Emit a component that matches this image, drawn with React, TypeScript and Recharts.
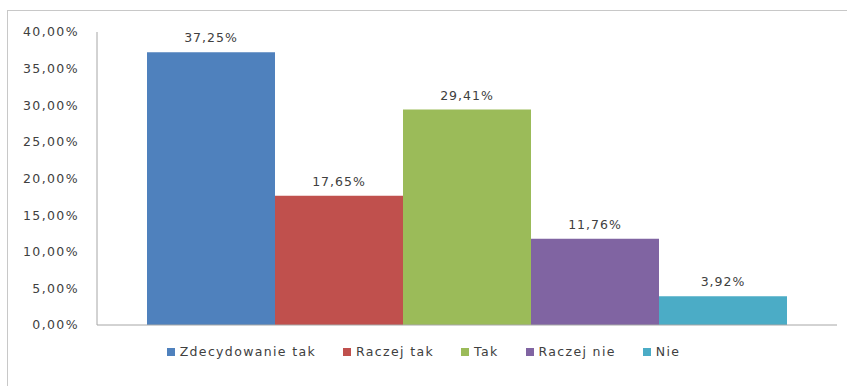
import React from 'react';
import { BarChart, Bar, XAxis, YAxis, Legend, LabelList } from 'recharts';

const categories = ['Zdecydowanie tak', 'Raczej tak', 'Tak', 'Raczej nie', 'Nie'];
const values = [37.25, 17.65, 29.41, 11.76, 3.92];
const colors = ['#4f81bd', '#c0504d', '#9bbb59', '#8064a2', '#4bacc6'];
const yTicks = [0, 5, 10, 15, 20, 25, 30, 35, 40];

const row: Record<string, string | number> = { name: '' };
categories.forEach((c, i) => {
  row['s' + i] = values[i];
});
const data = [row];

const fmt = (v: number) => v.toFixed(2).replace('.', ',') + '%';
const FONT = '"DejaVu Sans", sans-serif';

const renderLegend = () => (
  <div style={{ display: 'flex', justifyContent: 'center', fontFamily: FONT, fontSize: 12.5, color: '#404040', letterSpacing: 1.35 }}>
    {categories.map((c, i) => (
      <div key={c} style={{ display: 'flex', alignItems: 'center', marginRight: i < categories.length - 1 ? 27 : 0 }}>
        <span style={{ display: 'inline-block', width: 8, height: 8, background: colors[i], marginRight: 5 }} />
        <span>{c}</span>
      </div>
    ))}
  </div>
);

export default function App() {
  return (
    <div style={{ position: 'absolute', left: 0, top: 0, width: 847, height: 386, background: '#fff' }}>
      <div style={{ position: 'absolute', left: 7, top: 10, width: 845, height: 380, border: '1px solid #c8c8c8', boxSizing: 'border-box' }} />
      <div style={{ position: 'absolute', left: 0, top: 0 }}>
        <BarChart width={847} height={386} data={data} margin={{ top: 32, right: 10, bottom: 60, left: 0 }} barCategoryGap={50} barGap={0}>
          <XAxis dataKey="name" tick={false} tickLine={false} height={1} axisLine={{ stroke: '#a6a6a6' }} />
          <YAxis
            width={97}
            domain={[0, 40]}
            ticks={yTicks}
            tickFormatter={fmt}
            tickLine={false}
            axisLine={{ stroke: '#a6a6a6' }}
            tickMargin={12}
            tick={{ fill: '#404040', fontSize: 12.5, fontFamily: FONT, letterSpacing: 1.4 }}
            interval={0}
          />
          <Legend
            verticalAlign="middle"
            layout="horizontal"
            wrapperStyle={{ top: 344, left: 0, width: 847 }}
            content={renderLegend}
          />
          {categories.map((c, i) => (
            <Bar key={c} dataKey={'s' + i} name={c} fill={colors[i]} isAnimationActive={false}>
              <LabelList
                dataKey={'s' + i}
                position="top"
                offset={10}
                formatter={(v: any) => fmt(Number(v))}
                style={{ fill: '#404040', fontSize: 12.5, fontFamily: FONT, letterSpacing: 1 }}
              />
            </Bar>
          ))}
        </BarChart>
      </div>
    </div>
  );
}
